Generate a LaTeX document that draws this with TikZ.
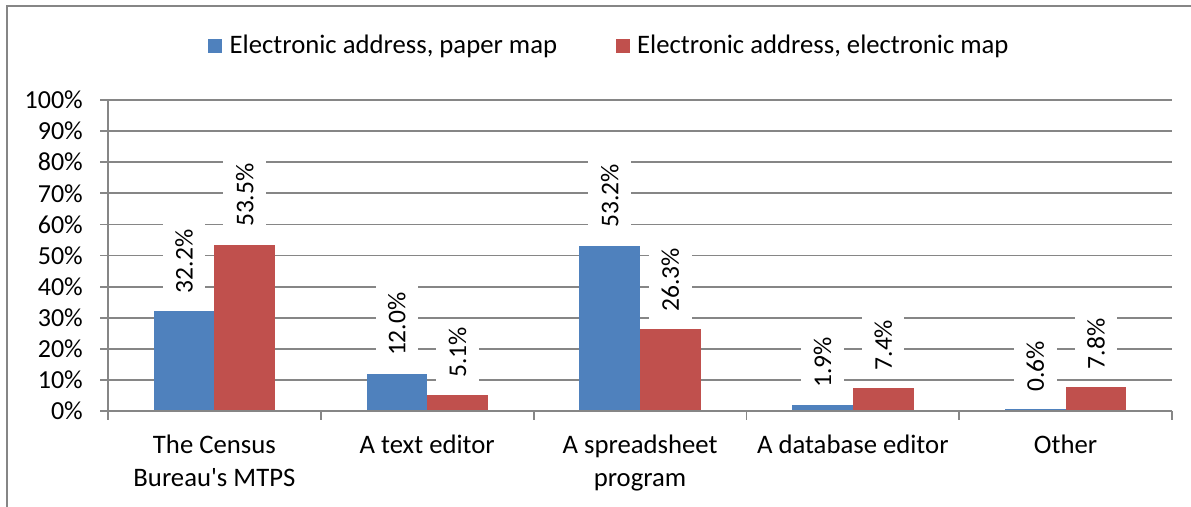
\documentclass[tikz,border=0pt]{standalone}
\usepackage{fontspec}
\setmainfont{Carlito}[Ligatures=TeXOff]
\definecolor{serA}{HTML}{4F81BD}
\definecolor{serB}{HTML}{C0504D}
\definecolor{axisgray}{HTML}{868686}
\begin{document}
\begin{tikzpicture}[x=1pt,y=-1pt,
  grid/.style={draw=axisgray, line width=1.8pt},
  lbl/.style={fill=white, rotate=90, anchor=west, inner xsep=8pt, inner ysep=12.5pt, font=\fontsize{25.5}{30}\selectfont},
  txt/.style={font=\fontsize{26}{32}\selectfont, inner sep=0pt},
  cat/.style={font=\fontsize{26.7}{32}\selectfont, inner sep=0pt},
  swatch/.style={minimum size=14.5pt, inner sep=0pt}]
\useasboundingbox (0,0) rectangle (1191,506);
\clip (0,0) rectangle (1191,506);
% frame
\draw[draw=axisgray, line width=2pt] (6.5,530) -- (6.5,6) -- (1200,6);
% gridlines and y tick labels
\foreach \k in {1,...,10} {
  \draw[grid] (100,{411-31.1*\k}) -- (1172,{411-31.1*\k});
}
\foreach \k in {0,...,10} {
  \pgfmathtruncatemacro\v{10*\k}
  \node[txt, anchor=east] (yt\k) at (83,{411-31.1*\k}) {\v\%};
}
% bars
\foreach \i/\c/\a/\b in {1/214.4/32.2/53.5, 2/427.2/12.0/5.1, 3/640/53.2/26.3, 4/852.8/1.9/7.4, 5/1065.6/0.6/7.8} {
  \pgfmathsetmacro\ya{411-3.11*\a}
  \pgfmathsetmacro\yb{411-3.11*\b}
  \fill[serA] ({\c-60.7},411) rectangle (\c,\ya);
  \fill[serB] (\c,411) rectangle ({\c+60.7},\yb);
}
% axes
\draw[grid] (100,411) -- (1172,411);
\draw[grid] (108,100) -- (108,420);
\foreach \x in {320.8,533.6,746.4,959.2,1172} {
  \draw[grid] (\x,411) -- (\x,420);
}
% data labels
\foreach \i/\c/\a/\b in {1/214.4/32.2/53.5, 2/427.2/12.0/5.1, 3/640/53.2/26.3, 4/852.8/1.9/7.4, 5/1065.6/0.6/7.8} {
  \pgfmathsetmacro\ya{411-3.11*\a}
  \pgfmathsetmacro\yb{411-3.11*\b}
  \node[lbl] (la\i) at ({\c-30.35},{\ya-9.5}) {\a\%};
  \node[lbl] (lb\i) at ({\c+30.35},{\yb-9.5}) {\b\%};
}
% category labels
\node[cat, anchor=base] (c1a) at (214.4,453.3) {The Census};
\node[cat, anchor=base] (c1b) at (214.4,486) {Bureau's MTPS};
\node[cat, anchor=base] (c2a) at (427.2,453.3) {A text editor};
\node[cat, anchor=base] (c3a) at (640,453.3) {A spreadsheet};
\node[cat, anchor=base] (c3b) at (640,486) {program};
\node[cat, anchor=base] (c4a) at (852.8,453.3) {A database editor};
\node[cat, anchor=base] (c5a) at (1065.6,453.3) {Other};
% legend
\node[swatch, fill=serA] (lgA) at (215.2,46) {};
\node[cat, anchor=base west] (lgAt) at (229.5,53.3) {Electronic address, paper map};
\node[swatch, fill=serB] (lgB) at (623.2,46) {};
\node[cat, anchor=base west] (lgBt) at (637,53.3) {Electronic address, electronic map};
\end{tikzpicture}
\end{document}
